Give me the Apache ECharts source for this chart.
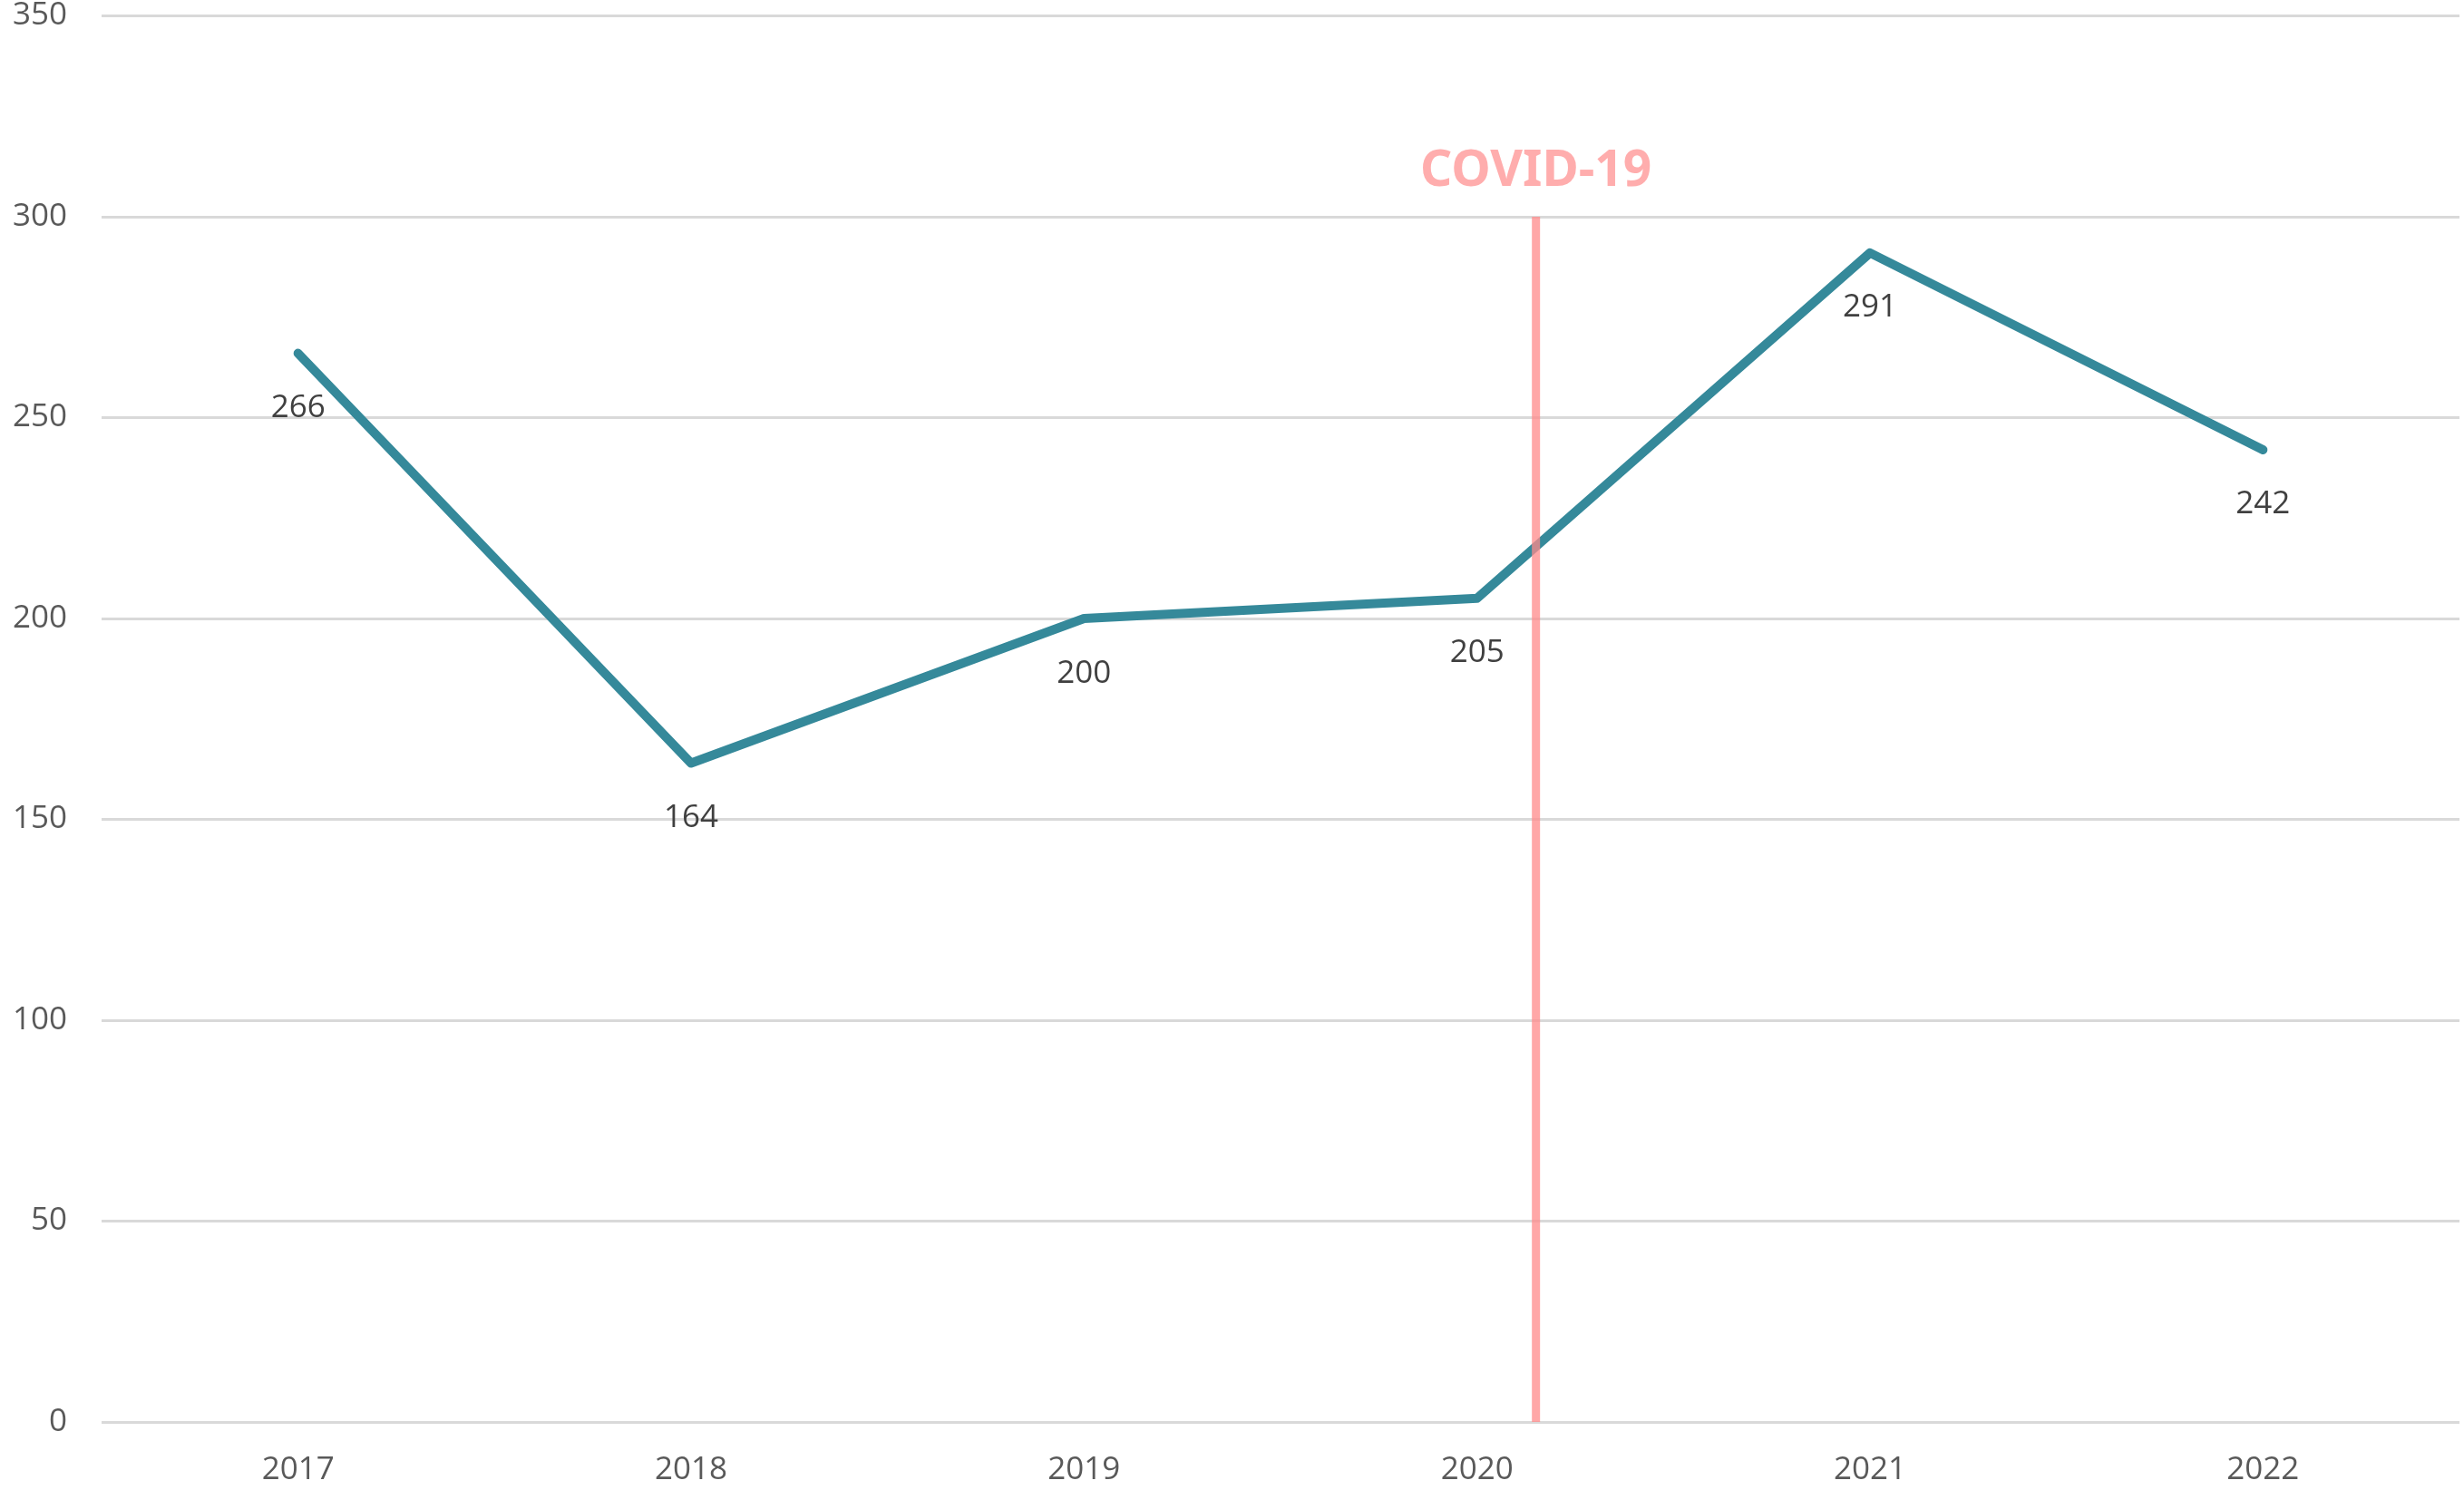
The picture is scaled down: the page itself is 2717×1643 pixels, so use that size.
<!DOCTYPE html>
<html>
<head>
<meta charset="utf-8">
<script src="https://cdn.jsdelivr.net/npm/echarts@6/dist/echarts.min.js"></script>
<style>
html,body{margin:0;padding:0;background:#fff;}
#chart{width:2717px;height:1643px;}
</style>
</head>
<body>
<div id="chart"></div>
<script>
const categories = ['2017', '2018', '2019', '2020', '2021', '2022'];
const values = [266, 164, 200, 205, 291, 242];
const yMin = 0, yMax = 350, yInterval = 50;
const covidX = [2020.15, 2020.15];
const covidY = [0, 300];
const covidLabel = 'COVID-19';

const chart = echarts.init(document.getElementById('chart'), null, {renderer: 'canvas'});
const font = '"Open Sans", "Noto Sans", sans-serif';

const covidData = covidX.map((x, i) => i === covidX.length - 1
  ? {value: [x, covidY[i]], label: {show: true, formatter: covidLabel, position: 'top', distance: 22,
      color: '#FFADAD', fontSize: 55, fontWeight: 'bold', fontFamily: '"Noto Sans", sans-serif'}}
  : {value: [x, covidY[i]]});

chart.setOption({
  animation: false,
  backgroundColor: '#ffffff',
  grid: {left: 112, right: 5, top: 17, bottom: 75, containLabel: false},
  xAxis: [{
    type: 'category', data: categories, boundaryGap: true,
    axisLine: {show: false}, axisTick: {show: false},
    axisLabel: {fontSize: 35, color: '#595959', margin: 36, fontFamily: font},
    splitLine: {show: false}
  }, {
    type: 'value', min: 2016.5, max: 2022.5, show: false
  }],
  yAxis: {
    type: 'value', min: yMin, max: yMax, interval: yInterval,
    axisLine: {show: false}, axisTick: {show: false},
    axisLabel: {fontSize: 35, color: '#595959', margin: 38, fontFamily: font},
    splitLine: {show: true, lineStyle: {color: '#D9D9D9', width: 3}}
  },
  series: [{
    type: 'line', data: values, xAxisIndex: 0,
    symbol: 'circle', symbolSize: 0.1, showSymbol: true,
    itemStyle: {color: '#35899A'},
    lineStyle: {color: '#35899A', width: 10, cap: 'round', join: 'round'},
    label: {show: true, position: 'bottom', distance: 43, fontSize: 35, color: '#404040', fontFamily: font},
    z: 2
  }, {
    type: 'line', xAxisIndex: 1, data: covidData,
    symbol: 'circle', symbolSize: 0.1,
    itemStyle: {color: '#FFA8A8'},
    lineStyle: {color: '#FF8A8A', width: 9, opacity: 0.75},
    z: 3
  }]
});
</script>
</body>
</html>
